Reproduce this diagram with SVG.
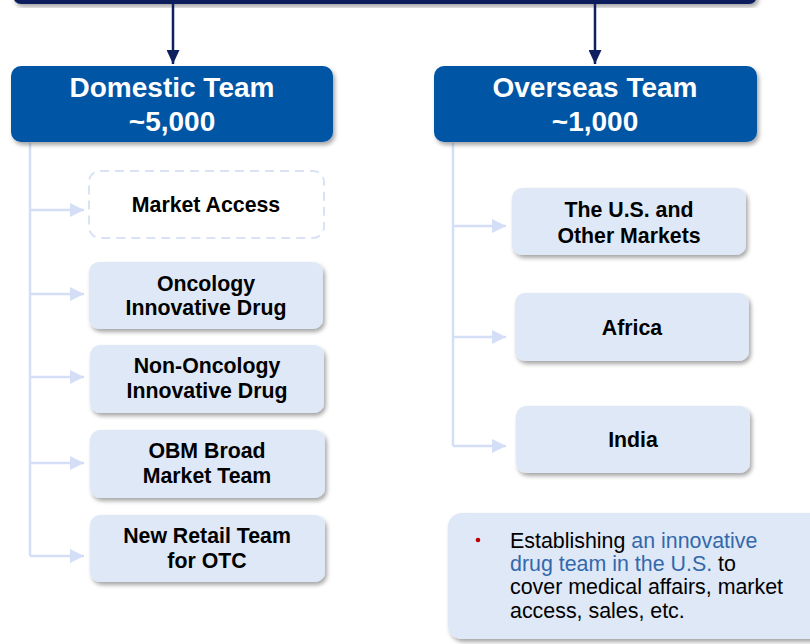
<svg xmlns="http://www.w3.org/2000/svg" width="810" height="644" viewBox="0 0 810 644">
<defs>
<style>
.hdr{fill:#0055A5;filter:url(#sh)}
.sub{fill:#DEE8F6;filter:url(#sh)}
.ht{font-family:"Liberation Sans",Arial,sans-serif;font-weight:bold;font-size:28px;fill:#fff;text-anchor:middle}
.bt{font-family:"Liberation Sans",Arial,sans-serif;font-weight:bold;font-size:21.3px;fill:#000;text-anchor:middle}
.nt{font-family:"Liberation Sans",Arial,sans-serif;font-size:21.4px;fill:#000}
.bl{fill:#3468AC}
.tree{stroke:#D4DEF7;stroke-width:2.5;fill:none}
.dk{stroke:#0F2060;stroke-width:2.5;fill:none}
</style>
<filter id="sh" x="-10%" y="-10%" width="125%" height="135%">
<feDropShadow dx="2" dy="3" stdDeviation="2" flood-color="#000" flood-opacity="0.35"/>
</filter>
<marker id="ad" markerWidth="14" markerHeight="13" refX="14" refY="6.5" orient="auto" markerUnits="userSpaceOnUse" viewBox="0 0 14 13">
<path d="M0,0 L14,6.5 L0,13 Z" fill="#0F2060"/>
</marker>
<marker id="al" markerWidth="14" markerHeight="14" refX="14" refY="7" orient="auto" markerUnits="userSpaceOnUse" viewBox="0 0 14 14">
<path d="M0,0 L14,7 L0,14 Z" fill="#D4DEF7"/>
</marker>
</defs>

<g id="top">
<rect x="13" y="-12" width="744" height="16" rx="8" fill="#0B1F5C" filter="url(#sh)"/>
</g>

<g id="connectors">
<line class="dk" x1="173" y1="4" x2="173" y2="64" marker-end="url(#ad)"/>
<line class="dk" x1="595" y1="4" x2="595" y2="64" marker-end="url(#ad)"/>
<path class="tree" d="M30,143 V556"/>
<line class="tree" x1="30" y1="210" x2="84" y2="210" marker-end="url(#al)"/>
<line class="tree" x1="30" y1="294" x2="84" y2="294" marker-end="url(#al)"/>
<line class="tree" x1="30" y1="377" x2="84" y2="377" marker-end="url(#al)"/>
<line class="tree" x1="30" y1="463" x2="84" y2="463" marker-end="url(#al)"/>
<line class="tree" x1="30" y1="556" x2="84" y2="556" marker-end="url(#al)"/>
<path class="tree" d="M453,143 V446"/>
<line class="tree" x1="453" y1="226" x2="506" y2="226" marker-end="url(#al)"/>
<line class="tree" x1="453" y1="337" x2="506" y2="337" marker-end="url(#al)"/>
<line class="tree" x1="453" y1="446" x2="506" y2="446" marker-end="url(#al)"/>
</g>

<g id="domestic">
<rect class="hdr" x="11" y="66" width="322" height="76" rx="10"/>
<text class="ht" x="172" y="97">Domestic Team</text>
<text class="ht" x="172" y="131">~5,000</text>
</g>

<g id="overseas">
<rect class="hdr" x="434" y="66" width="323" height="76" rx="10"/>
<text class="ht" x="595" y="97">Overseas Team</text>
<text class="ht" x="595" y="131">~1,000</text>
</g>

<g id="market-access">
<rect x="89" y="171" width="235" height="67" rx="11" fill="#fff" stroke="#D9E3F5" stroke-width="2" stroke-dasharray="9,6"/>
<text class="bt" x="206" y="212">Market Access</text>
</g>

<g id="oncology">
<rect class="sub" x="89" y="262" width="234" height="67" rx="10"/>
<text class="bt" x="206" y="291">Oncology</text>
<text class="bt" x="206" y="315">Innovative Drug</text>
</g>

<g id="non-oncology">
<rect class="sub" x="90" y="345" width="234" height="68" rx="10"/>
<text class="bt" x="207" y="373">Non-Oncology</text>
<text class="bt" x="207" y="398">Innovative Drug</text>
</g>

<g id="obm">
<rect class="sub" x="90" y="430" width="235" height="68" rx="10"/>
<text class="bt" x="207" y="458">OBM Broad</text>
<text class="bt" x="207" y="483">Market Team</text>
</g>

<g id="new-retail">
<rect class="sub" x="90" y="515" width="235" height="67" rx="10"/>
<text class="bt" x="207" y="543">New Retail Team</text>
<text class="bt" x="207" y="568">for OTC</text>
</g>

<g id="us">
<rect class="sub" x="512" y="188" width="234" height="67" rx="10"/>
<text class="bt" x="629" y="217">The U.S. and</text>
<text class="bt" x="629" y="243">Other Markets</text>
</g>

<g id="africa">
<rect class="sub" x="515" y="293" width="234" height="68" rx="10"/>
<text class="bt" x="632" y="335">Africa</text>
</g>

<g id="india">
<rect class="sub" x="516" y="406" width="234" height="67" rx="10"/>
<text class="bt" x="633" y="447">India</text>
</g>

<g id="note">
<rect class="sub" x="448" y="513" width="380" height="126" rx="14"/>
<circle cx="478" cy="540" r="2.3" fill="#C00000"/>
<text class="nt" x="510" y="548">Establishing <tspan class="bl">an innovative</tspan></text>
<text class="nt" x="510" y="571"><tspan class="bl">drug team in the U.S.</tspan> to</text>
<text class="nt" x="510" y="594">cover medical affairs, market</text>
<text class="nt" x="510" y="618">access, sales, etc.</text>
</g>
</svg>
